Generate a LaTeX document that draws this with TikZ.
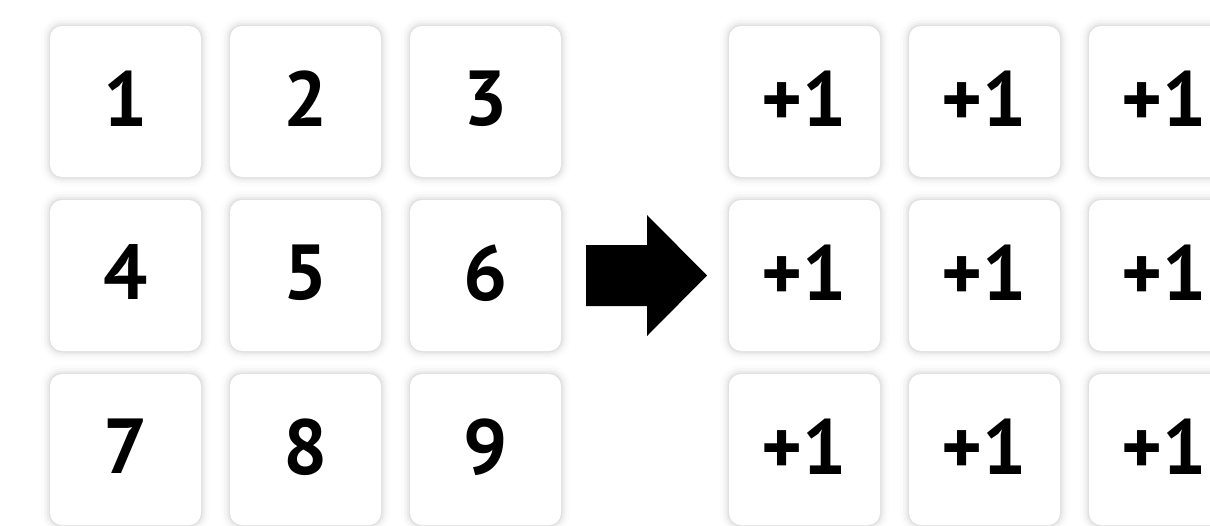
\documentclass[tikz,border=0pt]{standalone}
\usepackage{fontspec}
\setmainfont{PT Sans}
\usepackage{xcolor}
\definecolor{cCell}{HTML}{FFFFFF}
\definecolor{cGlow}{HTML}{808080}
\definecolor{cInk}{HTML}{000000}
\usetikzlibrary{positioning}
\tikzset{
  node-cell/.style={fill=cCell,rounded corners=12pt,inner sep=0pt,
    minimum width=151pt,minimum height=151pt,text depth=6pt,text=cInk,
    font=\fontsize{78}{78}\selectfont\bfseries,
    preaction={draw=cGlow,line width=18pt,opacity=0.025},
    preaction={draw=cGlow,line width=12pt,opacity=0.045},
    preaction={draw=cGlow,line width=7pt,opacity=0.07},
    preaction={draw=cGlow,line width=3pt,opacity=0.1}},
  arrow-block/.style={fill=cInk},
}

\begin{document}
\begin{tikzpicture}[x=1pt,y=-1pt]
  \clip (0,0) rectangle (1210,525);
  \fill[white] (0,0) rectangle (1210,525);
  % input grid and the +1 grid
  \foreach \row/\y in {0/101.5,1/275.5,2/449.5} {
    \foreach \col/\x in {0/125.5,1/305.5,2/485.5} {
      \pgfmathtruncatemacro\num{3*\row+\col+1}
      \node[node-cell] (c\num) at (\x,\y) {\num};
      \node[node-cell] (r\num) at (\x+679,\y) {+1};
    }
  }
  % block arrow
  \fill[arrow-block] (586,245) -- (647,245) -- (647,215) -- (707,275.5)
    -- (647,336) -- (647,306) -- (586,306) -- cycle;
\end{tikzpicture}
\end{document}
